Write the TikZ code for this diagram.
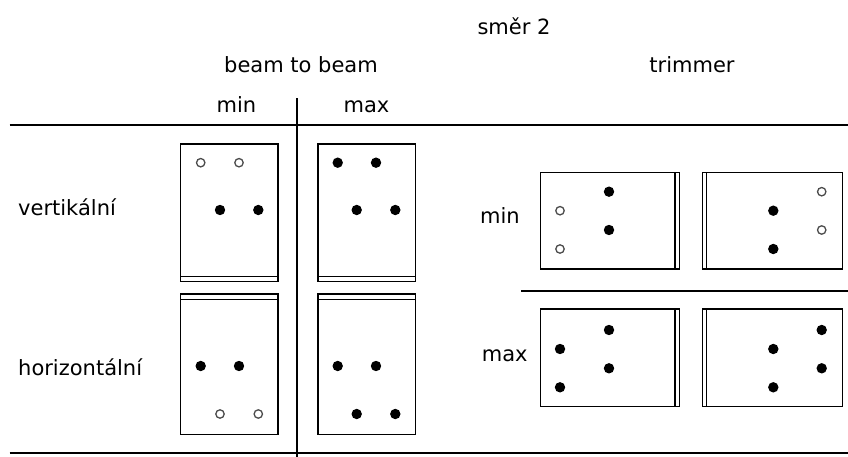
\documentclass[tikz,border=0pt]{standalone}
\usepackage{fontspec}
\setmainfont{DejaVu Sans}
\begin{document}
\begin{tikzpicture}[x=1bp,y=-1bp,
  lbl/.style={anchor=base,inner sep=0pt,font=\fontsize{21bp}{25bp}\selectfont},
  lblw/.style={lbl,anchor=base west},
  rule/.style={line width=2bp},
  frame/.style={line width=1.5bp},
  full/.style={fill=black},
  hollow/.style={draw=black!70,line width=1.3bp,fill=white}]
\useasboundingbox (0,0) rectangle (848,457);

% Headings
\node[lbl] (smer) at (514,35) {směr 2};
\node[lbl] (b2b) at (301,72.7) {beam to beam};
\node[lbl] (trim) at (692,73) {trimmer};
\node[lbl] (bmin) at (236.5,113) {min};
\node[lbl] (bmax) at (366.5,113) {max};

% Row labels
\node[lblw] (vert) at (18,216) {vertikální};
\node[lblw] (horz) at (18,376) {horizontální};
\node[lblw] (tmin) at (480,224) {min};
\node[lblw] (tmax) at (481.7,362) {max};

% Table rules
\draw[rule] (9.7,125) -- (848,125);
\draw[rule] (9.7,453.3) -- (848,453.3);
\draw[rule] (521,290.7) -- (848,290.7);
\draw[rule] (296.7,98.3) -- (296.7,457);

% Beam to beam, vertical
\draw[frame] (180.7,144) rectangle (278,281.7);
\draw[frame] (180.7,276.7) -- (278,276.7);
\draw[frame] (318,144) rectangle (415.7,281.7);
\draw[frame] (318,276.7) -- (415.7,276.7);

% Beam to beam, horizontal
\draw[frame] (180.7,294) rectangle (278,434.3);
\draw[frame] (180.7,299.3) -- (278,299.3);
\draw[frame] (318,294) rectangle (415.7,434.3);
\draw[frame] (318,299.3) -- (415.7,299.3);

% Trimmer, min
\draw[frame] (540.7,172.3) rectangle (679.3,269);
\draw[frame] (675,172.3) -- (675,269);
\draw[frame] (702.3,172.3) rectangle (842.3,269);
\draw[frame] (706.7,172.3) -- (706.7,269);

% Trimmer, max
\draw[frame] (540.7,309) rectangle (679.3,406.7);
\draw[frame] (675,309) -- (675,406.7);
\draw[frame] (702.3,309) rectangle (842.3,406.7);
\draw[frame] (706.7,309) -- (706.7,406.7);

% Bolts, filled
\foreach \x/\y in {220/210,258.3/210,
    337.7/162.7,376/162.7,356.7/210,395.3/210,
    200.7/366,239/366,
    337.7/366,376/366,356.7/414,395.3/414,
    609/191.7,609/230,
    773.3/210.7,773.3/249,
    609/330,609/368.3,560/349,560/387.3,
    773.3/349,773.3/387.3,821.7/330,821.7/368.3} {
    \fill[full] (\x,\y) circle (5.2bp);
}

% Bolts, open
\foreach \x/\y in {200.7/162.7,239/162.7,
    220/414,258.3/414,
    560/210.7,560/249,
    821.7/191.7,821.7/230} {
    \draw[hollow] (\x,\y) circle (4.2bp);
}
\end{tikzpicture}
\end{document}
